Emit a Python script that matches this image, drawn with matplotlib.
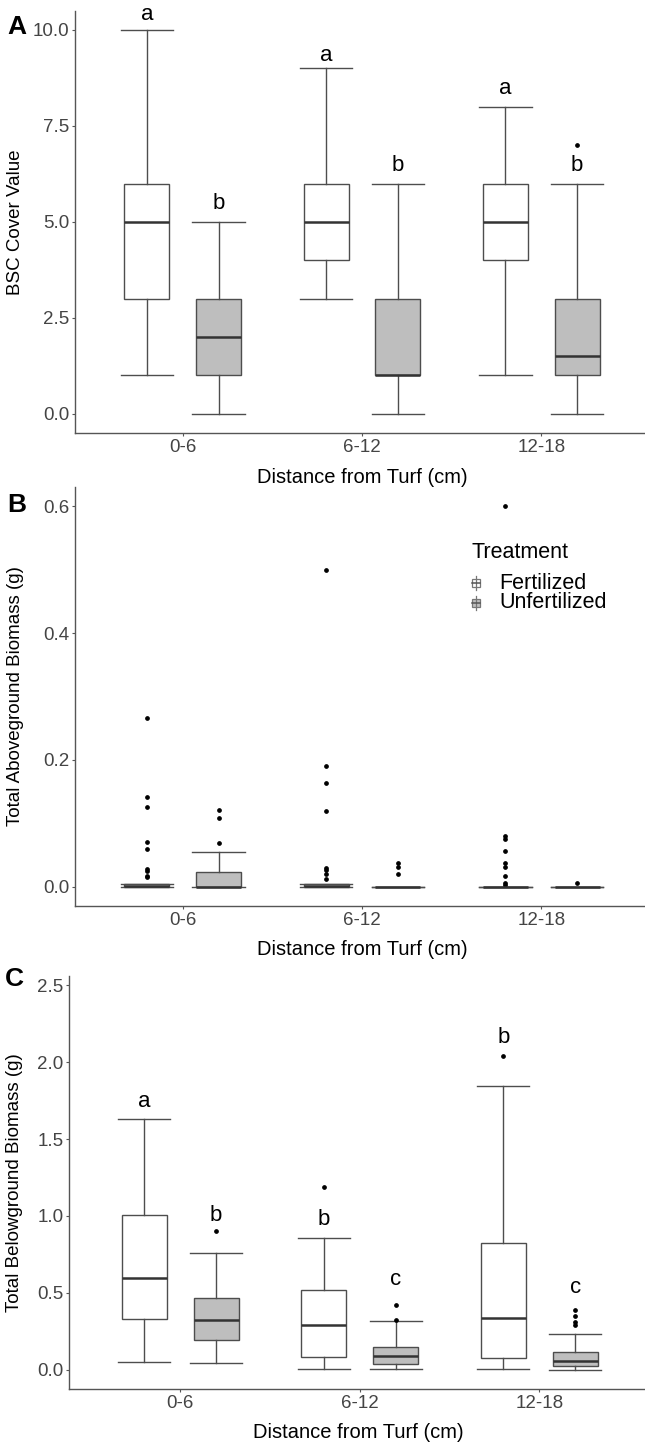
import numpy as np
import matplotlib.pyplot as plt
from matplotlib.patches import Rectangle
from matplotlib.lines import Line2D

plt.rcParams['font.family'] = ['Liberation Sans', 'DejaVu Sans']

# ---- data ----
dist = ['0-6', '6-12', '12-18']
treatments = ['Fertilized', 'Unfertilized']

# A: BSC cover value
a_fert_lo = [1, 3, 1]
a_fert_q1 = [3, 4, 4]
a_fert_med = [5, 5, 5]
a_fert_q3 = [6, 6, 6]
a_fert_hi = [10, 9, 8]
a_fert_out = [[], [], []]
a_unf_lo = [0, 0, 0]
a_unf_q1 = [1, 1, 1]
a_unf_med = [2, 1, 1.5]
a_unf_q3 = [3, 3, 3]
a_unf_hi = [5, 6, 6]
a_unf_out = [[], [], [7]]
a_fert_let = ['a', 'a', 'a']
a_fert_let_y = [10.41, 9.33, 8.47]
a_unf_let = ['b', 'b', 'b']
a_unf_let_y = [5.49, 6.46, 6.46]

# B: total aboveground biomass
b_fert_lo = [0, 0, 0]
b_fert_q1 = [0, 0, 0]
b_fert_med = [0.001, 0.001, 0]
b_fert_q3 = [0.005, 0.005, 0]
b_fert_hi = [0.005, 0.005, 0]
b_fert_out = [[0.266, 0.141, 0.126, 0.071, 0.059, 0.028, 0.025, 0.018, 0.015],
              [0.499, 0.191, 0.164, 0.119, 0.030, 0.026, 0.020, 0.013],
              [0.600, 0.081, 0.075, 0.056, 0.038, 0.031, 0.018, 0.006, 0.003]]
b_unf_lo = [0, 0, 0]
b_unf_q1 = [0, 0, 0]
b_unf_med = [0, 0, 0]
b_unf_q3 = [0.023, 0, 0]
b_unf_hi = [0.055, 0, 0]
b_unf_out = [[0.121, 0.108, 0.069], [0.037, 0.032, 0.021], [0.006]]

# C: total belowground biomass
c_fert_lo = [0.05, 0.007, 0.007]
c_fert_q1 = [0.328, 0.083, 0.076]
c_fert_med = [0.599, 0.293, 0.337]
c_fert_q3 = [1.003, 0.517, 0.821]
c_fert_hi = [1.629, 0.854, 1.844]
c_fert_out = [[], [1.188], [2.042]]
c_unf_lo = [0.046, 0.002, 0.0]
c_unf_q1 = [0.191, 0.039, 0.024]
c_unf_med = [0.324, 0.087, 0.059]
c_unf_q3 = [0.465, 0.148, 0.113]
c_unf_hi = [0.756, 0.315, 0.235]
c_unf_out = [[0.901], [0.424, 0.321], [0.387, 0.348, 0.311, 0.289]]
c_fert_let = ['a', 'b', 'b']
c_fert_let_y = [1.744, 0.977, 2.157]
c_unf_let = ['b', 'c', 'c']
c_unf_let_y = [1.0, 0.586, 0.532]

W, H = 645, 1443
fig = plt.figure(figsize=(W / 100, H / 100), dpi=100)

EDGE = '#4d4d4d'
FILLS = ['white', '#bebebe']


def px_axes(left, top, right, bottom):
    return fig.add_axes([left / W, 1 - bottom / H, (right - left) / W, (bottom - top) / H])


def make_stats(lo, q1, med, q3, hi, out):
    return [dict(whislo=lo[i], q1=q1[i], med=med[i], q3=q3[i], whishi=hi[i],
                 fliers=np.array(out[i])) for i in range(len(lo))]


def draw_panel(ax, groups, ylim, yticks, ylabel, letters=None):
    x = np.arange(1, len(dist) + 1)
    for k, stats in enumerate(groups):
        pos = x + (-0.2 if k == 0 else 0.2)
        ax.bxp(stats, positions=pos, widths=0.25, capwidths=0.29,
               patch_artist=True, manage_ticks=False,
               boxprops=dict(facecolor=FILLS[k], edgecolor=EDGE, linewidth=1.0),
               whiskerprops=dict(color=EDGE, linewidth=1.0),
               capprops=dict(color=EDGE, linewidth=1.0),
               medianprops=dict(color='#333333', linewidth=1.8),
               flierprops=dict(marker='o', markersize=2.4, markerfacecolor='black',
                               markeredgecolor='black', linestyle='none'))
        if letters is not None:
            labs, ys = letters[k]
            for xi, s, yy in zip(pos, labs, ys):
                ax.text(xi, yy, s, ha='center', va='center', fontsize=16,
                        color='black', clip_on=False)
    ax.set_ylim(*ylim)
    ax.set_yticks(yticks)
    ax.set_yticklabels(['%.1f' % t for t in yticks])
    ax.set_xticks(x)
    ax.set_xticklabels(dist)
    for s in ['top', 'right']:
        ax.spines[s].set_visible(False)
    for s in ['left', 'bottom']:
        ax.spines[s].set_color('#555555')
        ax.spines[s].set_linewidth(1.0)
    ax.tick_params(length=2.2, width=0.8, color='#555555', labelsize=13.5,
                   labelcolor='#444444', pad=1.8)
    ax.set_xlabel('Distance from Turf (cm)', fontsize=14.5, color='black')
    ax.set_ylabel(ylabel, fontsize=13.5, color='black', va='center')


# Panel A
axA = px_axes(75, 10.8, 649, 433)
axA.set_xlim(0.4, 3.6)
draw_panel(axA,
           [make_stats(a_fert_lo, a_fert_q1, a_fert_med, a_fert_q3, a_fert_hi, a_fert_out),
            make_stats(a_unf_lo, a_unf_q1, a_unf_med, a_unf_q3, a_unf_hi, a_unf_out)],
           (-0.5, 10.5), [0, 2.5, 5, 7.5, 10], 'BSC Cover Value',
           letters=[(a_fert_let, a_fert_let_y), (a_unf_let, a_unf_let_y)])
axA.xaxis.set_label_coords(0.5, -35 / 422)
axA.yaxis.set_label_coords(-59 / 574, 0.5)

# Panel B
axB = px_axes(75, 487, 649, 906)
axB.set_xlim(0.4, 3.6)
draw_panel(axB,
           [make_stats(b_fert_lo, b_fert_q1, b_fert_med, b_fert_q3, b_fert_hi, b_fert_out),
            make_stats(b_unf_lo, b_unf_q1, b_unf_med, b_unf_q3, b_unf_hi, b_unf_out)],
           (-0.03, 0.63), [0, 0.2, 0.4, 0.6], 'Total Aboveground Biomass (g)')
axB.xaxis.set_label_coords(0.5, -34 / 419)
axB.yaxis.set_label_coords(-59 / 574, 0.5)

# Panel C
axC = px_axes(69, 976, 647, 1389)
axC.set_xlim(0.38, 3.6)
draw_panel(axC,
           [make_stats(c_fert_lo, c_fert_q1, c_fert_med, c_fert_q3, c_fert_hi, c_fert_out),
            make_stats(c_unf_lo, c_unf_q1, c_unf_med, c_unf_q3, c_unf_hi, c_unf_out)],
           (-0.125, 2.56), [0, 0.5, 1.0, 1.5, 2.0, 2.5], 'Total Belowground Biomass (g)',
           letters=[(c_fert_let, c_fert_let_y), (c_unf_let, c_unf_let_y)])
axC.xaxis.set_label_coords(0.5, -34 / 413)
axC.yaxis.set_label_coords(-54 / 578, 0.5)

# panel tags
for tag, (tx, ty) in zip(['A', 'B', 'C'], [(17, 27), (17, 505), (14, 979)]):
    fig.text(tx / W, 1 - ty / H, tag, fontsize=19, fontweight='bold',
             ha='center', va='center')

# legend for treatment (drawn in figure pixels)
fig.text(472 / W, 1 - 552 / H, 'Treatment', fontsize=15.5, ha='left', va='center')
for name, fill, cy in zip(treatments, FILLS, [583, 603]):
    kx = 476
    fig.add_artist(Line2D([kx / W, kx / W], [1 - (cy - 7) / H, 1 - (cy + 7) / H],
                          transform=fig.transFigure, color='#777777', lw=0.9))
    fig.add_artist(Rectangle(((kx - 4) / W, 1 - (cy + 4) / H), 8 / W, 8 / H,
                             transform=fig.transFigure, facecolor=fill,
                             edgecolor='#777777', lw=0.9))
    fig.add_artist(Line2D([(kx - 4) / W, (kx + 4) / W], [1 - cy / H, 1 - cy / H],
                          transform=fig.transFigure, color='#555555', lw=1.1))
    fig.text(499 / W, 1 - cy / H, name, fontsize=15.5, ha='left', va='center')

fig.savefig('out.png', dpi=100)
